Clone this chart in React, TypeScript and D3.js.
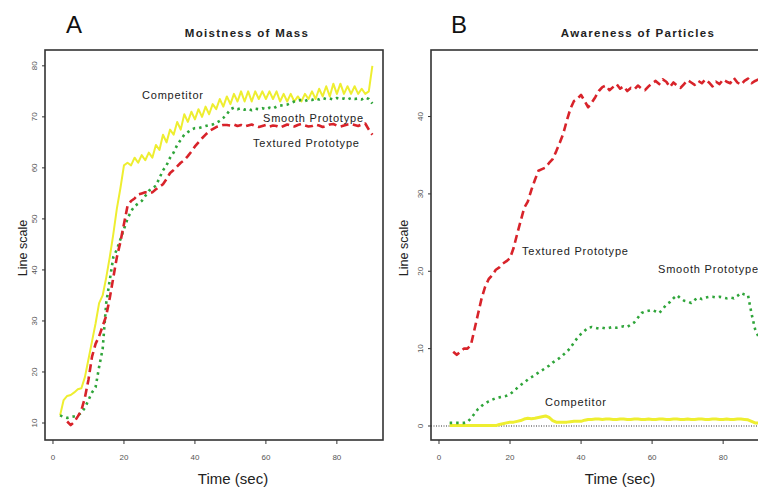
import React from 'react';
import * as d3 from 'd3';

// Panel A — Moistness of Mass (sampled every second)
const timesA = d3.range(2, 91);
const aCompetitor = [
  11.5, 14.5, 15.3, 15.5, 16, 16.6, 16.8, 19, 22.5, 26, 29.5, 33.5, 35, 38.5, 42.5, 47, 52, 56, 60.5,
  61, 60.5, 62, 61, 62.5, 61.5, 63, 62, 64.5, 63.5, 66.5, 65, 67.5, 66.5, 69, 67.5, 70.5, 69, 71, 69.5,
  71.5, 70, 72, 70.5, 72.5, 71.5, 73.5, 72, 74, 72.5, 74.5, 73, 75, 73, 75, 73, 75, 73.5, 75, 73.5,
  75, 73.5, 75, 73, 74.5, 73, 74.5, 73, 74, 73, 74.5, 73.5, 75, 73.5, 75.5, 74, 76, 74, 76.5, 74.5,
  76.5, 74.5, 76, 74.5, 76, 74.5, 75.5, 74.5, 75, 80,
];
const aSmooth = [
  11.5, 11.2, 11, 11.2, 11.3, 11.5, 12, 13, 14.5, 16, 17, 21, 24.5, 33.5, 38, 42.5, 44, 46, 48,
  50, 51.5, 52.5, 53, 53.5, 54.5, 55.5, 56, 56.5, 58, 59.5, 60.5, 62, 63, 64.5, 65.5, 66.5, 67, 67.5,
  67.8, 67.8, 68, 68.2, 68.4, 68.5, 68.8, 69.2, 69.8, 70.5, 71.5, 71.8, 71.5, 71.7, 71.4, 71.6, 71.3,
  71.6, 71.5, 71.7, 71.5, 71.8, 71.6, 72, 72.2, 72.3, 72.4, 72.7, 73, 73.2, 73.3, 73.1, 73.4, 73.3,
  73.6, 73.4, 73.7, 73.5, 73.6, 73.4, 73.7, 73.5, 73.6, 73.4, 73.7, 73.5, 73.6, 73.4, 73.8, 73.5, 72.6,
];
const timesATextured = d3.range(4, 91);
const aTextured = [
  10.3, 9.6, 10.2, 11.3, 12.5, 15, 18.5, 23, 25.5, 27, 29, 31, 34.5, 38.5, 42.5, 45.5, 49, 52.5,
  53.5, 54, 54.8, 55, 55.2, 55, 55.2, 55.8, 56.3, 56.8, 57.8, 59, 59.6, 60.3, 61, 61.5, 62.3, 63.2,
  64.2, 65, 65.8, 66.5, 67.2, 67.6, 68, 68.2, 68.4, 68.4, 68.3, 68.5, 68.2, 68.4, 68.1, 68.3, 68.5,
  68.2, 68, 68.2, 68.4, 68.1, 68.3, 68.2, 67.9, 68.2, 68.5, 68.3, 68.1, 68.4, 68.6, 68.3, 68.1, 68.2,
  68.5, 68.3, 68, 68.2, 68.5, 68.6, 68.3, 68.1, 68.3, 68.5, 68.6, 68.4, 68.2, 68.5, 68.7, 67.5, 66.5,
];

// Panel B — Awareness of Particles
const timesBTextured = d3.range(4, 91);
const bTextured = [
  9.6, 9.2, 9.6, 10, 10, 10.5, 12.5, 14.5, 16.5, 18, 19, 19.5, 20.2, 20.5, 21, 21.3, 21.7, 23, 24.8,
  26.5, 28.2, 29, 30.5, 31.8, 33, 33.2, 33.4, 34, 34.5, 35.5, 36.6, 37.8, 39.5, 41, 42, 42.3, 42.8,
  42, 41.2, 41.8, 42.5, 43.3, 43.8, 44, 43.4, 43.8, 44.2, 43.6, 43.9, 43.3, 43.7, 43.5, 44, 43.6, 43.4,
  43.9, 44.3, 44.6, 44.2, 44.8, 44.5, 43.8, 44.4, 44, 43.7, 44.2, 44.7, 44.4, 44.1, 44.6, 44.3, 44.8,
  44.4, 43.9, 44.5, 44.2, 44.8, 44.5, 44.3, 45, 44.4, 44.1, 44.6, 44.9, 44.3, 44.6, 44.8,
];
const timesB = d3.range(3, 91);
const bSmooth = [
  0.4, 0.4, 0.4, 0.4, 0.4, 0.5, 1, 1.6, 2.2, 2.6, 2.9, 3.2, 3.4, 3.6, 3.7, 3.8, 3.9, 4.1, 4.5, 4.9,
  5.3, 5.6, 6, 6.3, 6.6, 6.9, 7.2, 7.5, 7.8, 8.2, 8.5, 8.8, 9.2, 9.6, 10.1, 10.8, 11.4, 11.9, 12.3,
  12.7, 12.8, 12.7, 12.6, 12.7, 12.6, 12.7, 12.8, 12.7, 12.8, 12.9, 12.8, 13.1, 13.4, 14, 14.6, 14.8,
  14.9, 15, 14.8, 14.6, 15.1, 15.7, 16, 16.5, 16.9, 16.5, 16.2, 16.1, 15.9, 16.3, 16.6, 16.4, 16.6,
  16.7, 16.7, 16.6, 16.7, 16.6, 16.5, 16.6, 16.5, 16.8, 17.2, 17, 16.9, 14.5, 12.5, 11.5,
];
const bCompetitor = [
  0.05, 0.05, 0.05, 0.05, 0.05, 0.05, 0.05, 0.05, 0.05, 0.05, 0.05, 0.05, 0.05, 0.05, 0.2, 0.3, 0.4,
  0.5, 0.5, 0.6, 0.7, 0.9, 1, 0.95, 1, 1.1, 1.2, 1.3, 1.1, 0.7, 0.5, 0.5, 0.5, 0.5, 0.55, 0.6, 0.6,
  0.6, 0.75, 0.85, 0.85, 0.9, 0.9, 0.85, 0.9, 0.9, 0.85, 0.85, 0.9, 0.9, 0.85, 0.85, 0.9, 0.9, 0.85,
  0.85, 0.9, 0.85, 0.85, 0.9, 0.9, 0.85, 0.85, 0.9, 0.9, 0.85, 0.85, 0.9, 0.85, 0.85, 0.9, 0.9, 0.85,
  0.85, 0.9, 0.9, 0.85, 0.85, 0.9, 0.85, 0.85, 0.9, 0.9, 0.85, 0.8, 0.6, 0.4, 0.4,
];

const xTicks = [0, 20, 40, 60, 80];
const yTicksA = [10, 20, 30, 40, 50, 60, 70, 80];
const yTicksB = [0, 10, 20, 30, 40];

const YELLOW = '#eeee30';
const GREEN = '#2fa53a';
const RED = '#d8232a';
const FONT = '"Liberation Sans", Arial, sans-serif';

type Series = { times: number[]; values: number[]; color: string; width: number; dash?: string };
type Label = { text: string; x: number; y: number };

function Panel({
  left, right, top, bottom, xDomain, yDomain, yTicks, series, labels,
  letter, letterX, title, titleX, xLabelX, yLabelX, zeroLine,
}: {
  left: number; right: number; top: number; bottom: number;
  xDomain: [number, number]; yDomain: [number, number]; yTicks: number[];
  series: Series[]; labels: Label[]; letter: string; letterX: number;
  title: string; titleX: number; xLabelX: number; yLabelX: number; zeroLine?: boolean;
}) {
  const x = d3.scaleLinear().domain(xDomain).range([left, right]);
  const y = d3.scaleLinear().domain(yDomain).range([bottom, top]);
  const line = d3.line<[number, number]>().x((d) => x(d[0])).y((d) => y(d[1]));

  return (
    <g fontFamily={FONT}>
      <text x={letterX} y={33} fontSize={24} fill="#111">{letter}</text>
      <text x={titleX} y={37} fontSize={11.5} fontWeight="bold" textAnchor="middle" fill="#222" letterSpacing={1.3}>
        {title}
      </text>
      <rect x={left} y={top} width={right - left} height={bottom - top} fill="none" stroke="#333" strokeWidth={1.6} />

      {zeroLine && (
        <line x1={left} x2={right} y1={y(0)} y2={y(0)} stroke="#333" strokeWidth={1.2} strokeDasharray="1,1.5" />
      )}

      {series.map((s, i) => (
        <path
          key={i}
          d={line(s.times.map((t, j) => [t, s.values[j]] as [number, number])) || ''}
          fill="none"
          stroke={s.color}
          strokeWidth={s.width}
          strokeDasharray={s.dash}
          strokeLinejoin="round"
        />
      ))}

      {labels.map((l) => (
        <text key={l.text} x={l.x} y={l.y} fontSize={11} letterSpacing={0.8} fill="#222">{l.text}</text>
      ))}

      {xTicks.map((t) => (
        <g key={t}>
          <line x1={x(t)} x2={x(t)} y1={bottom} y2={bottom + 4} stroke="#333" />
          <text x={x(t)} y={460} fontSize={8} textAnchor="middle" fill="#555">{t}</text>
        </g>
      ))}
      {yTicks.map((t) => (
        <g key={t}>
          <line x1={left - 3} x2={left} y1={y(t)} y2={y(t)} stroke="#333" />
          <text
            transform={`translate(${left - 8},${y(t)}) rotate(-90)`}
            fontSize={8}
            textAnchor="middle"
            fill="#555"
          >
            {t}
          </text>
        </g>
      ))}

      <text x={xLabelX} y={484} fontSize={15} textAnchor="middle" fill="#222">
        Time (sec)
      </text>
      <text transform={`translate(${yLabelX},248) rotate(-90)`} fontSize={12.5} textAnchor="middle" fill="#222">
        Line scale
      </text>
    </g>
  );
}

export default function App() {
  return (
    <svg
      width={758}
      height={489}
      style={{ position: 'absolute', left: 0, top: 0, display: 'block', background: '#fff' }}
    >
      <Panel
        left={45} right={383} top={50} bottom={440}
        xDomain={[-2.25, 93]} yDomain={[6.67, 83.1]} yTicks={yTicksA}
        letter="A" letterX={66} title="Moistness of Mass" titleX={247} xLabelX={233} yLabelX={27}
        series={[
          { times: timesA, values: aCompetitor, color: YELLOW, width: 2 },
          { times: timesA, values: aSmooth, color: GREEN, width: 2.6, dash: '2.5,4' },
          { times: timesATextured, values: aTextured, color: RED, width: 2.6, dash: '8,4.5' },
        ]}
        labels={[
          { text: 'Competitor', x: 142, y: 99 },
          { text: 'Smooth  Prototype', x: 263, y: 122 },
          { text: 'Textured  Prototype', x: 253, y: 147 },
        ]}
      />
      <Panel
        left={431} right={775} top={50} bottom={440}
        xDomain={[-2.25, 94.6]} yDomain={[-1.81, 48.6]} yTicks={yTicksB}
        letter="B" letterX={451} title="Awareness of Particles" titleX={638} xLabelX={620} yLabelX={408} zeroLine
        series={[
          { times: timesB, values: bCompetitor, color: YELLOW, width: 3 },
          { times: timesB, values: bSmooth, color: GREEN, width: 2.6, dash: '2.5,4' },
          { times: timesBTextured, values: bTextured, color: RED, width: 2.6, dash: '8,4.5' },
        ]}
        labels={[
          { text: 'Textured  Prototype', x: 522, y: 255 },
          { text: 'Smooth  Prototype', x: 658, y: 273 },
          { text: 'Competitor', x: 545, y: 406 },
        ]}
      />
    </svg>
  );
}
